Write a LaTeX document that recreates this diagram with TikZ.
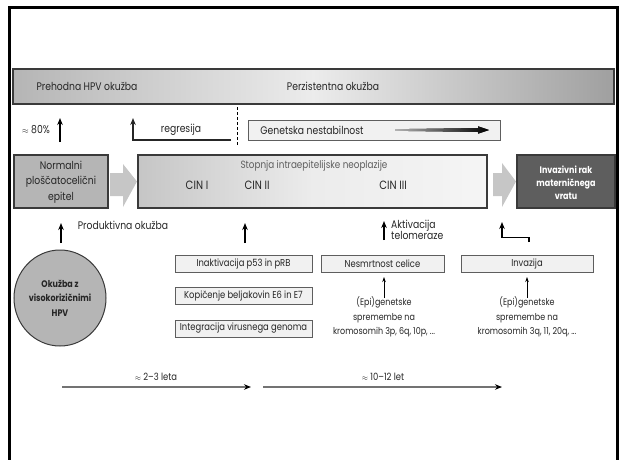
\documentclass[tikz,border=0pt]{standalone}
\usepackage{fontspec}
\setmainfont{Poppins}[FakeStretch=0.84]
\usetikzlibrary{arrows.meta,shapes.geometric}
\definecolor{txt}{HTML}{262626}
\definecolor{bord}{HTML}{3A3A3A}
\definecolor{lbox}{HTML}{F1F1F1}
\definecolor{mid}{HTML}{B5B5B5}
\definecolor{blk}{HTML}{C6C6C6}
\definecolor{dark}{HTML}{5E5E5E}
\tikzset{
  base/.style={text=txt, inner sep=0pt, align=center},
  bar/.style={draw=bord, line width=1.3pt, inner sep=0pt},
  smallbox/.style={draw=dark, line width=0.7pt, fill=lbox, inner sep=0pt, minimum height=17pt, text=txt, font=\fontsize{10}{11}\selectfont},
  arr/.style={line width=1.2pt, -{Stealth[length=7pt,width=5.5pt]}},
  thin/.style={line width=0.7pt, -{Stealth[length=5pt,width=3.5pt]}},
  blockarr/.style={fill=blk, draw=none},
  time/.style={draw=gray!90!black, line width=1.3pt, -{Stealth[length=7pt,width=5.5pt,color=black]}}
}
\begin{document}
\begin{tikzpicture}[x=1pt,y=-1pt, font=\fontsize{11}{12}\selectfont]
\useasboundingbox (0,0) rectangle (619,459);
% frame
\draw[line width=2.5pt] (9.5,462) -- (9.5,7.5) -- (617.5,7.5) -- (617.5,462);

% top bar
\node[bar, minimum width=601pt, minimum height=35pt, left color=mid, right color=gray!75, middle color=gray!15] (top) at (313.5,86.5) {};
\node[base] (prehodna) at (87,86) {Prehodna HPV okužba};
\node[base] (perz) at (333,86) {Perzistentna okužba};

% row 2
\node[base] (p80) at (36,130) {{\fontsize{8}{8}\selectfont$\approx$} 80\%};
\coordinate (a80s) at (60,142);
\coordinate (a80e) at (60,118);
\draw[arr] (a80s) -- (a80e);
\coordinate (regs) at (231,140);
\coordinate (regc) at (133,140);
\coordinate (rege) at (133,118);
\draw[arr, draw=txt] (regs) -- (regc) -- (rege);
\node[base] (regr) at (181,130) {regresija};
\coordinate (dash1) at (237,107);
\coordinate (dash2) at (237,146);
\draw[line width=1pt, dash pattern=on 3pt off 2pt] (dash1) -- (dash2);
\node[draw=dark, line width=0.9pt, fill=lbox, minimum width=252pt, minimum height=20pt, inner sep=0pt] (gen) at (374,130) {};
\node[base] (gentxt) at (312,130) {Genetska nestabilnost};
\fill[left color=gray!60, right color=black] (395,129.2) -- (478,128) -- (478,126.3) -- (489,130) -- (478,133.7) -- (478,132) -- (395,130.8) -- cycle;

% row 3
\node[bar, fill=mid, minimum width=94pt, minimum height=53pt] (norm) at (61,181.5) {};
\node[base, font=\fontsize{11}{15.5}\selectfont] (normtxt) at (61,182) {Normalni\\ploščatocelični\\epitel};
\fill[blockarr] (110,173) -- (123,173) -- (123,164) -- (137,181.5) -- (123,207) -- (123,196) -- (110,196) -- cycle;
\node[bar, minimum width=349pt, minimum height=53pt, left color=gray!45, right color=gray!8, middle color=gray!15] (cin) at (312.5,181.5) {};
\node[base, text=dark, font=\fontsize{10.5}{11}\selectfont] (stop) at (314,165.5) {Stopnja intraepitelijske neoplazije};
\node[base, font=\fontsize{12}{13}\selectfont] (cin1) at (197,185) {CIN I};
\node[base, font=\fontsize{12}{13}\selectfont] (cin2) at (257,185) {CIN II};
\node[base, font=\fontsize{12}{13}\selectfont] (cin3) at (393,185) {CIN III};
\fill[blockarr] (493,173) -- (502,173) -- (502,163) -- (516,181.5) -- (502,207) -- (502,196) -- (493,196) -- cycle;
\node[bar, fill=dark, minimum width=98pt, minimum height=53pt] (inv) at (566,181.5) {};
\node[base, text=white, font=\bfseries\fontsize{9.5}{13}\selectfont] (invtxt) at (566,183) {Invazivni rak\\materničnega\\vratu};

% row 4
\coordinate (c1s) at (61,243);
\coordinate (c1e) at (61,223);
\draw[arr] (c1s) -- (c1e);
\node[base] (prod) at (123,225) {Produktivna okužba};
\coordinate (c2s) at (245,243);
\coordinate (c2e) at (245,223);
\draw[arr] (c2s) -- (c2e);
\coordinate (c3s) at (384,240);
\coordinate (c3e) at (384,221);
\draw[arr] (c3s) -- (c3e);
\node[base, align=left, anchor=west, font=\fontsize{11}{11.5}\selectfont] (akt) at (391,230) {Aktivacija\\telomeraze};
\coordinate (c4a) at (529,242);
\coordinate (c4b) at (529,237.5);
\coordinate (c4c) at (502,237.5);
\coordinate (c4e) at (502,222);
\draw[arr] (c4a) -- (c4b) -- (c4c) -- (c4e);

% row 5
\node[draw=bord, line width=1pt, fill=mid, ellipse, minimum width=92pt, minimum height=96pt, inner sep=0pt] (hpv) at (60,298) {};
\node[base, font=\bfseries\fontsize{9.5}{14.5}\selectfont] (hpvtxt) at (60,298) {Okužba z\\visokorizičnimi\\HPV};

\node[smallbox, minimum width=137pt] (inak) at (243.5,263.5) {Inaktivacija p53 in pRB};
\node[smallbox, minimum width=137pt] (kop) at (243.5,295.5) {Kopičenje beljakovin E6 in E7};
\node[smallbox, minimum width=137pt] (integ) at (243.5,328.5) {Integracija virusnega genoma};
\node[smallbox, minimum width=123pt] (nesm) at (382.5,263.5) {Nesmrtnost celice};
\node[smallbox, minimum width=132pt] (invz) at (527,263.5) {Invazija};

\node[base, font=\fontsize{9.5}{14.5}\selectfont] (epi1) at (384,317) {(Epi)genetske\\spremembe na\\kromosomih 3p, 6q, 10p, ...};
\node[base, font=\fontsize{9.5}{14.5}\selectfont] (epi2) at (527,317) {(Epi)genetske\\spremembe na\\kromosomih 3q, 11, 20q, ...};
\coordinate (e1s) at (384,298);
\coordinate (e1e) at (384,277);
\coordinate (e2s) at (527,298);
\coordinate (e2e) at (527,277);
\draw[thin] (e1s) -- (e1e);
\draw[thin] (e2s) -- (e2e);

% timeline
\coordinate (t1s) at (62,387);
\coordinate (t1e) at (251,387);
\coordinate (t2s) at (263,387);
\coordinate (t2e) at (502,387);
\draw[time] (t1s) -- (t1e);
\draw[time] (t2s) -- (t2e);
\node[base, font=\fontsize{10}{11}\selectfont] (l1) at (156,377) {{\fontsize{7.5}{8}\selectfont$\approx$} 2–3 leta};
\node[base, font=\fontsize{10}{11}\selectfont] (l2) at (383,377) {{\fontsize{7.5}{8}\selectfont$\approx$} 10–12 let};
\end{tikzpicture}
\end{document}
